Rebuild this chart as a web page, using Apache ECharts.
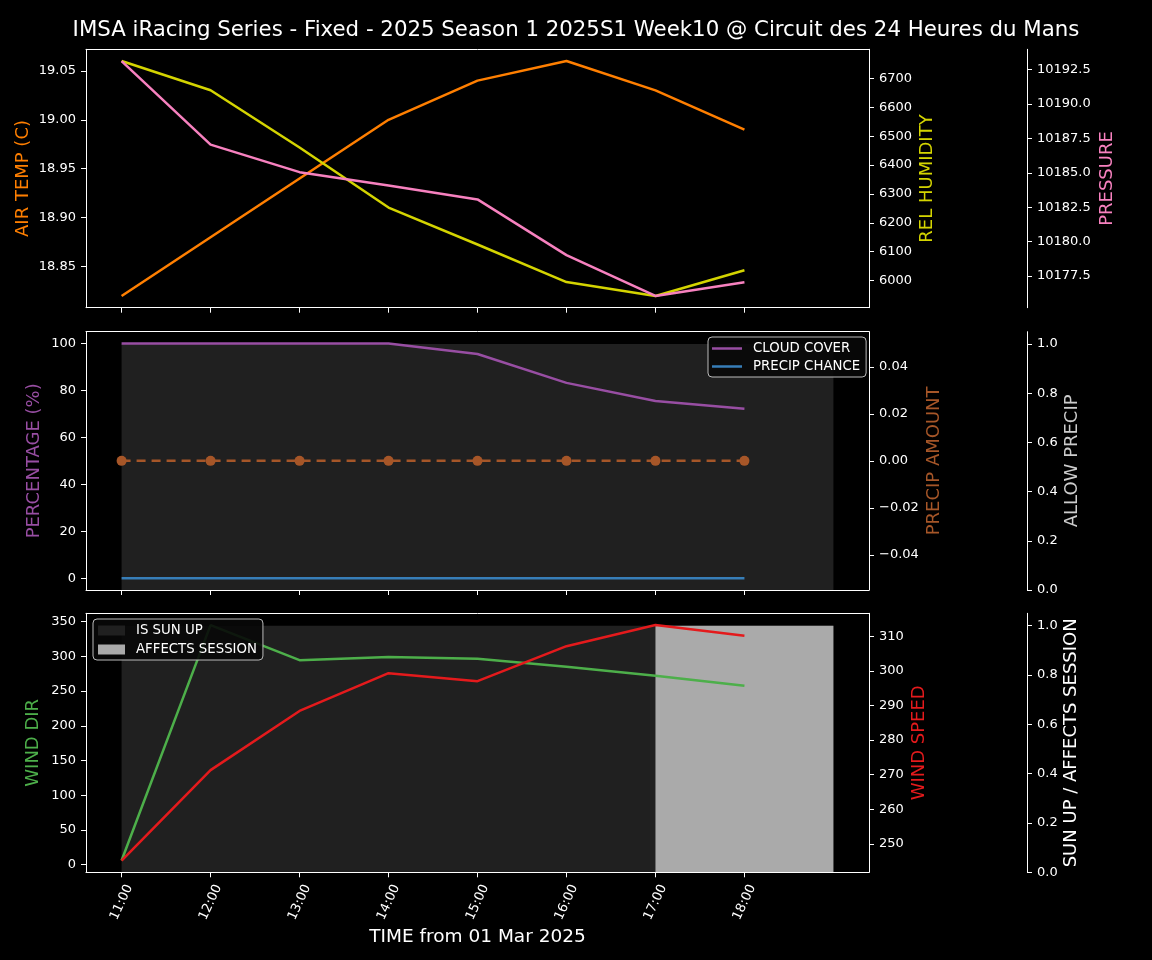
<!DOCTYPE html>
<html><head><meta charset="utf-8">
<script src="https://cdn.jsdelivr.net/npm/echarts@6/dist/echarts.min.js"></script>
<style>html,body{margin:0;background:#000}#c{width:1152px;height:960px}</style>
</head><body><div id="c"></div><script>
// ---- data ----
const hours = [0, 1, 2, 3, 4, 5, 6, 7];
const hourLabels = ['11:00', '12:00', '13:00', '14:00', '15:00', '16:00', '17:00', '18:00'];
const airTemp = [18.82, 18.88, 18.94, 19.00, 19.04, 19.06, 19.03, 18.99];
const relHumidity = [6760, 6659, 6461, 6253, 6125, 5995, 5947, 6036];
const pressure = [10193.13, 10187.05, 10185.05, 10184.08, 10183.07, 10179.02, 10176.05, 10177.04];
const cloudCover = [100, 100, 100, 100, 95.5, 83.2, 75.5, 72.2];
const precipChance = [0, 0, 0, 0, 0, 0, 0, 0];
const precipAmount = [0, 0, 0, 0, 0, 0, 0, 0];
const windDir = [6, 345, 294.5, 299, 296.5, 285, 272, 257.6];
const windSpeed = [245.2, 271.3, 288.4, 299.3, 297.0, 307.1, 313.2, 310.1];
const fillHours = [0, 1, 2, 3, 4, 5, 6, 7, 8];
const allowPrecip = [1, 1, 1, 1, 1, 1, 1, 1, 1];
const isSunUp = [1, 1, 1, 1, 1, 1, 1, 1, 1];
const affectsSession = [0, 0, 0, 0, 0, 0, 1, 1, 1];

// tick labels
const airTempTicks = [18.85, 18.90, 18.95, 19.00, 19.05];
const humidityTicks = [6000, 6100, 6200, 6300, 6400, 6500, 6600, 6700];
const pressureTicks = [10177.5, 10180.0, 10182.5, 10185.0, 10187.5, 10190.0, 10192.5];
const pctTicks = [0, 20, 40, 60, 80, 100];
const precipTicks = [-0.04, -0.02, 0, 0.02, 0.04];
const unitTicks = [0, 0.2, 0.4, 0.6, 0.8, 1.0];
const windDirTicks = [0, 50, 100, 150, 200, 250, 300, 350];
const windSpeedTicks = [250, 260, 270, 280, 290, 300, 310];

// ---- helpers ----
const FONT = 'DejaVu Sans';
function pad(arr) {
  const lo = Math.min(...arr), hi = Math.max(...arr);
  let r = hi - lo;
  if (r === 0) return [lo - 0.055, hi + 0.055];
  return [lo - 0.05 * r, hi + 0.05 * r];
}
function pts(xs, ys) { return xs.map((x, i) => [x, ys[i]]); }
function fmtMinus(s) { return s.replace('-', '\u2212'); }

const grids = [
  { left: 86, width: 783, top: 49.3, height: 258.4 },
  { left: 86, width: 783, top: 331.7, height: 258.3 },
  { left: 86, width: 783, top: 613.3, height: 259 }
];

const xAxes = [];
grids.forEach((g, gi) => {
  xAxes.push({
    type: 'value', gridIndex: gi, position: 'bottom', min: -0.4, max: 8.4, z: 10,
    axisLine: { show: true, onZero: false, lineStyle: { color: '#fff', width: 1 } },
    axisTick: { show: true, customValues: hours, length: 5, lineStyle: { color: '#fff' } },
    axisLabel: gi === 2 ? {
      show: true, customValues: hours, rotate: 65, margin: 30, align: 'center', verticalAlign: 'middle',
      color: '#fff', fontFamily: FONT, fontSize: 13,
      formatter: v => hourLabels[Math.round(v)]
    } : { show: false },
    splitLine: { show: false },
    name: gi === 2 ? 'TIME from 01 Mar 2025' : '',
    nameLocation: 'middle', nameGap: 55, nameMoveOverlap: false,
    nameTextStyle: { color: '#fff', fontFamily: FONT, fontSize: 18.5 }
  });
  xAxes.push({
    type: 'value', gridIndex: gi, position: 'top', min: -0.4, max: 8.4, z: 10,
    axisLine: { show: true, onZero: false, lineStyle: { color: '#fff', width: 1 } },
    axisTick: { show: false }, axisLabel: { show: false }, splitLine: { show: false }
  });
});

function yAx(gi, pos, offset, range, ticks, fmt, name, color, gap) {
  return {
    type: 'value', gridIndex: gi, position: pos, offset: offset, min: range[0], max: range[1], z: 10,
    axisLine: { show: true, onZero: false, lineStyle: { color: '#fff', width: 1 } },
    axisTick: { show: true, customValues: ticks, length: 5, lineStyle: { color: '#fff' } },
    axisLabel: { show: true, customValues: ticks, formatter: fmt, color: '#fff', fontFamily: FONT, fontSize: 13, margin: 10 },
    splitLine: { show: false },
    name: name, nameLocation: 'middle', nameGap: gap, nameMoveOverlap: false,
    nameTextStyle: { color: color, fontFamily: FONT, fontSize: 18 }
  };
}

const C = {
  temp: '#ff7f00', hum: '#d4d400', pres: '#f781bf', cloud: '#984ea3', pchance: '#377eb8',
  pamt: '#a65628', allow: '#cccccc', wdir: '#4daf4a', wspd: '#e41a1c', dark: '#202020', light: '#aaaaaa'
};

const yAxes = [
  yAx(0, 'left', 0, pad(airTemp), airTempTicks, v => v.toFixed(2), 'AIR TEMP (C)', C.temp, 54),
  yAx(0, 'right', 0, pad(relHumidity), humidityTicks, v => String(Math.round(v)), 'REL HUMIDITY', C.hum, 49),
  yAx(0, 'right', 158, pad(pressure), pressureTicks, v => v.toFixed(1), 'PRESSURE', C.pres, 71),
  yAx(1, 'left', 0, pad(cloudCover.concat(precipChance)), pctTicks, v => String(Math.round(v)), 'PERCENTAGE (%)', C.cloud, 43),
  yAx(1, 'right', 0, pad(precipAmount), precipTicks, v => fmtMinus(v.toFixed(2)), 'PRECIP AMOUNT', C.pamt, 56),
  yAx(1, 'right', 158, [0, 1.05], unitTicks, v => v.toFixed(1), 'ALLOW PRECIP', C.allow, 36),
  yAx(2, 'left', 0, pad(windDir), windDirTicks, v => String(Math.round(v)), 'WIND DIR', C.wdir, 44),
  yAx(2, 'right', 0, pad(windSpeed), windSpeedTicks, v => String(Math.round(v)), 'WIND SPEED', C.wspd, 41),
  yAx(2, 'right', 158, [0, 1.05], unitTicks, v => v.toFixed(1), 'SUN UP / AFFECTS SESSION', '#ffffff', 35)
];

function line(name, xi, yi, data, color, extra) {
  return Object.assign({
    name: name, type: 'line', xAxisIndex: xi, yAxisIndex: yi, data: data,
    showSymbol: false, symbol: 'none', z: 3,
    lineStyle: { color: color, width: 2.5 }, itemStyle: { color: color }
  }, extra || {});
}
function area(name, xi, yi, data, color, extra) {
  return Object.assign({
    name: name, type: 'line', xAxisIndex: xi, yAxisIndex: yi, data: data,
    showSymbol: false, symbol: 'none', z: 1,
    lineStyle: { width: 0, color: color }, itemStyle: { color: color },
    areaStyle: { color: color, opacity: 1 }
  }, extra || {});
}

const series = [
  line('AIR TEMP', 0, 0, pts(hours, airTemp), C.temp),
  line('REL HUMIDITY', 0, 1, pts(hours, relHumidity), C.hum),
  line('PRESSURE', 0, 2, pts(hours, pressure), C.pres),

  area('ALLOW PRECIP', 2, 5, pts(fillHours, allowPrecip), C.dark),
  line('CLOUD COVER', 2, 3, pts(hours, cloudCover), C.cloud),
  line('PRECIP CHANCE', 2, 3, pts(hours, precipChance), C.pchance),
  line('PRECIP AMOUNT', 2, 4, pts(hours, precipAmount), C.pamt, {
    showSymbol: true, symbol: 'circle', symbolSize: 10,
    lineStyle: { color: C.pamt, width: 2.5, type: [9, 6] }
  }),

  area('IS SUN UP', 4, 8, pts(fillHours, isSunUp), C.dark),
  area('AFFECTS SESSION', 4, 8, pts(fillHours, affectsSession), C.light, { step: 'end', z: 1.5 }),
  line('WIND DIR', 4, 6, pts(hours, windDir), C.wdir),
  line('WIND SPEED', 4, 7, pts(hours, windSpeed), C.wspd)
];

const legendBase = {
  orient: 'vertical', selectedMode: false, backgroundColor: 'rgba(8,8,8,0.9)',
  borderColor: '#bbbbbb', borderWidth: 1, borderRadius: 4, z: 20,
  textStyle: { color: '#fff', fontFamily: FONT, fontSize: 13.3, padding: [0, 0, 0, 6] }
};

const option = {
  backgroundColor: '#000',
  animation: false,
  title: {
    text: 'IMSA iRacing Series - Fixed - 2025 Season 1 2025S1 Week10 @ Circuit des 24 Heures du Mans',
    left: 'center', top: 15,
    textStyle: { color: '#fff', fontFamily: FONT, fontSize: 21.3, fontWeight: 'normal' }
  },
  grid: grids,
  xAxis: xAxes,
  yAxis: yAxes,
  legend: [
    Object.assign({}, legendBase, {
      data: ['CLOUD COVER', 'PRECIP CHANCE'], left: 708, top: 337,
      icon: 'rect', itemWidth: 30, itemHeight: 2.5, itemGap: 5, padding: [5, 6, 4, 4]
    }),
    Object.assign({}, legendBase, {
      data: ['IS SUN UP', 'AFFECTS SESSION'], left: 93, top: 619,
      icon: 'rect', itemWidth: 27, itemHeight: 10, itemGap: 6, padding: [5, 6, 4, 5]
    })
  ],
  series: series
};

const chart = echarts.init(document.getElementById('c'), null, { renderer: 'canvas' });
chart.setOption(option);
</script></body></html>
